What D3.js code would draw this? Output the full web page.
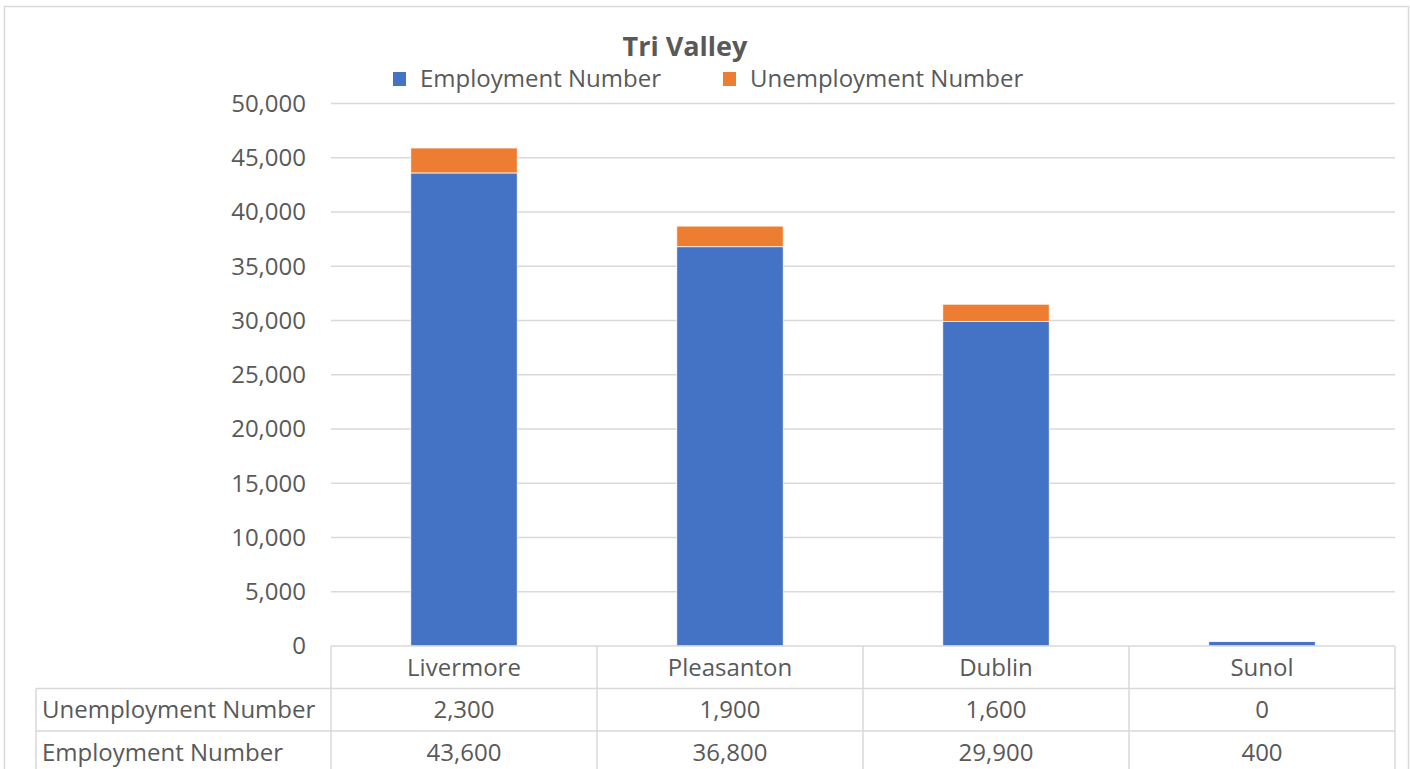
<!DOCTYPE html>
<html lang="en">
<head>
    <meta charset="UTF-8">
    <title>Tri Valley</title>
    <script src="https://d3js.org/d3.v7.min.js"></script>
    <style>
        body { margin: 0; background: #fff; }
        text { font-family: "Open Sans", sans-serif; fill: #595959; }
    </style>
</head>
<body>
    <svg width="1410" height="769"></svg>

    <script>
        var cities = ["Livermore", "Pleasanton", "Dublin", "Sunol"];
        var employment = [43600, 36800, 29900, 400];
        var unemployment = [2300, 1900, 1600, 0];
        var yTicks = [0, 5000, 10000, 15000, 20000, 25000, 30000, 35000, 40000, 45000, 50000];
        var seriesNames = ["Employment Number", "Unemployment Number"];
        var colors = ["#4472C4", "#ED7D31"];

        var svg = d3.select("svg");
        var plotL = 331, plotR = 1395, plotT = 103.5, plotB = 646;
        var fmt = d3.format(",");
        var fs = 24;

        // outer chart border
        svg.append("rect")
            .attr("x", 4.5).attr("y", 6.5).attr("width", 1404).attr("height", 780)
            .attr("fill", "none").attr("stroke", "#d9d9d9").attr("stroke-width", 1.5);

        var x = d3.scaleBand().domain(cities).range([plotL, plotR]);
        var y = d3.scaleLinear().domain([0, 50000]).range([plotB, plotT]);

        // gridlines
        svg.append("g").selectAll("line")
            .data(yTicks.slice(1))
            .enter().append("line")
              .attr("x1", plotL).attr("x2", plotR)
              .attr("y1", function(d) { return y(d); })
              .attr("y2", function(d) { return y(d); })
              .attr("stroke", "#d9d9d9").attr("stroke-width", 1.5);

        // y labels
        svg.append("g").selectAll("text")
            .data(yTicks)
            .enter().append("text")
              .attr("x", 306)
              .attr("y", function(d) { return y(d); })
              .attr("dy", "0.35em")
              .attr("text-anchor", "end")
              .attr("font-size", fs)
              .text(function(d) { return fmt(d); });

        // stacked bars
        var rows = cities.map(function(c, i) {
            return { city: c, emp: employment[i], unemp: unemployment[i] };
        });
        var stack = d3.stack().keys(["emp", "unemp"])(rows);
        var bw = x.bandwidth() * 0.4;

        svg.append("g").selectAll("g")
            .data(stack)
            .enter().append("g")
              .attr("fill", function(d, i) { return colors[i]; })
            .selectAll("rect")
            .data(function(d) { return d; })
            .enter().append("rect")
              .attr("x", function(d) { return x(d.data.city) + x.bandwidth() / 2 - bw / 2; })
              .attr("y", function(d) { return y(d[1]); })
              .attr("height", function(d) { return y(d[0]) - y(d[1]); })
              .attr("width", bw)
              .attr("stroke", "#fff").attr("stroke-width", 0.75);

        // title
        svg.append("text")
            .attr("x", 685).attr("y", 56)
            .attr("text-anchor", "middle")
            .attr("font-size", 27).attr("font-weight", "bold")
            .text("Tri Valley");

        // legend
        var legendX = [393, 723];
        var lg = svg.append("g").selectAll("g")
            .data(seriesNames)
            .enter().append("g")
              .attr("transform", function(d, i) { return "translate(" + legendX[i] + ",72)"; });
        lg.append("rect").attr("width", 13).attr("height", 14)
            .attr("fill", function(d, i) { return colors[i]; });
        lg.append("text").attr("x", 27).attr("y", 7).attr("dy", "0.35em")
            .attr("font-size", fs)
            .text(function(d) { return d; });

        // data table
        var rowY = [646, 688.5, 731, 773.5];
        var grid = svg.append("g").attr("stroke", "#d9d9d9").attr("stroke-width", 1.5);
        grid.append("line").attr("x1", plotL).attr("x2", plotR).attr("y1", rowY[0]).attr("y2", rowY[0]);
        [1, 2, 3].forEach(function(r) {
            grid.append("line").attr("x1", 36).attr("x2", plotR).attr("y1", rowY[r]).attr("y2", rowY[r]);
        });
        grid.append("line").attr("x1", 36).attr("x2", 36).attr("y1", rowY[1]).attr("y2", rowY[3]);
        cities.concat([null]).forEach(function(c) {
            var xx = c ? x(c) : plotR;
            grid.append("line").attr("x1", xx).attr("x2", xx).attr("y1", rowY[0]).attr("y2", rowY[3]);
        });

        function cellText(vals, r) {
            svg.append("g").selectAll("text")
                .data(vals)
                .enter().append("text")
                  .attr("x", function(d, i) { return x(cities[i]) + x.bandwidth() / 2; })
                  .attr("y", (rowY[r] + rowY[r + 1]) / 2)
                  .attr("dy", "0.35em")
                  .attr("text-anchor", "middle")
                  .attr("font-size", fs)
                  .text(function(d) { return typeof d === "number" ? fmt(d) : d; });
        }
        cellText(cities, 0);
        cellText(unemployment, 1);
        cellText(employment, 2);

        svg.append("g").selectAll("text")
            .data(["Unemployment Number", "Employment Number"])
            .enter().append("text")
              .attr("x", 42)
              .attr("y", function(d, i) { return (rowY[i + 1] + rowY[i + 2]) / 2; })
              .attr("dy", "0.35em")
              .attr("font-size", fs)
              .text(function(d) { return d; });
    </script>
</body>
</html>
